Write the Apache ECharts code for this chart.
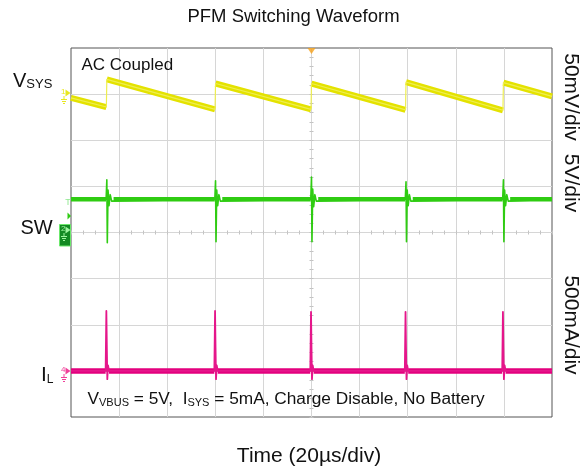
<!DOCTYPE html>
<html>
<head>
<meta charset="utf-8">
<script src="https://cdn.jsdelivr.net/npm/echarts@6/dist/echarts.min.js"></script>
<style>html,body{margin:0;padding:0;background:#fff}#c{width:587px;height:470px}</style>
</head>
<body>
<div id="c"></div>
<script>
// ---- Data (time in µs, trigger at 0, 20 µs/div) ----
// VSYS (AC coupled, mV relative to channel reference): sawtooth ramps
const vsysRamps = [
  [[-100, -4], [-85.3, -14]],
  [[-85.1, 16], [-40.1, -16.5]],
  [[-39.9, 11.5], [-0.2, -16.5]],
  [[0, 11.5], [39.1, -17]],
  [[39.3, 13], [79.6, -17.5]],
  [[79.8, 12.5], [100, -2.5]]
];
// SW node (V)
const swBase = 3.6;
const swSpikes = [
  [[-85.4, 3.6], [-85.1, 5.7], [-84.9, -1.1], [-84.6, 4.6], [-84.2, 2.9], [-83.7, 4.1], [-83.1, 3.4], [-82.3, 3.6]],
  [[-40.2, 3.6], [-39.9, 5.6], [-39.7, -1.0], [-39.4, 4.6], [-39.0, 2.9], [-38.5, 4.1], [-37.9, 3.4], [-37.1, 3.6]],
  [[-0.3, 3.6], [0, 6.0], [0.2, -1.0], [0.5, 4.7], [0.9, 2.8], [1.4, 4.1], [2.0, 3.4], [2.8, 3.6]],
  [[39.0, 3.6], [39.3, 5.5], [39.5, -1.0], [39.8, 4.6], [40.2, 2.9], [40.7, 4.1], [41.3, 3.4], [42.1, 3.6]],
  [[79.5, 3.6], [79.8, 5.7], [80.0, -1.0], [80.3, 4.6], [80.7, 2.9], [81.2, 4.1], [81.8, 3.4], [82.6, 3.6]]
];
// Inductor current IL (mA)
const ilBase = 0;
const ilSpikes = [
  [[-85.6, 0], [-85.3, 650], [-85.1, 250], [-84.9, -90], [-84.6, 60], [-84.2, 0]],
  [[-40.4, 0], [-40.1, 650], [-39.9, 250], [-39.7, -90], [-39.4, 60], [-39.0, 0]],
  [[-0.5, 0], [-0.2, 640], [0, 250], [0.2, -90], [0.5, 60], [0.9, 0]],
  [[38.8, 0], [39.1, 640], [39.3, 250], [39.5, -90], [39.8, 60], [40.2, 0]],
  [[79.3, 0], [79.6, 640], [79.8, 250], [80.0, -90], [80.3, 60], [80.7, 0]]
];
const triggerTime = [0];
const timeRange = [-100, 100];

// ---- Build series data from the arrays ----
function joinWithBreaks(segs) {
  const out = [];
  segs.forEach((s, i) => { if (i) out.push([s[0][0], null]); s.forEach(p => out.push(p)); });
  return out;
}
function baselineSegments(base, spikes) {
  const segs = [];
  let start = timeRange[0];
  spikes.forEach(sp => { segs.push([[start, base], [sp[0][0], base]]); start = sp[sp.length - 1][0]; });
  segs.push([[start, base], [timeRange[1], base]]);
  return segs;
}
function fullTrace(base, spikes) {
  const out = [[timeRange[0], base]];
  spikes.forEach(sp => sp.forEach(p => out.push(p)));
  out.push([timeRange[1], base]);
  return out;
}
const vsysThick = joinWithBreaks(vsysRamps);
const vsysThin = [].concat(...vsysRamps);
const swThick = joinWithBreaks(baselineSegments(swBase, swSpikes));
const swThin = fullTrace(swBase, swSpikes);
const ilThick = joinWithBreaks(baselineSegments(ilBase, ilSpikes));
const ilThin = fullTrace(ilBase, ilSpikes);

const FONT = '"Liberation Sans", Arial, Helvetica, sans-serif';
const YEL = '#e4e200', GRN = '#2fcc12', MAG = '#e3007e';
const gridLine = { show: true, showMinLine: false, showMaxLine: false, lineStyle: { color: '#d6d6d6', width: 1 } };
const tickAxisX = inside => ({
  type: 'value', min: timeRange[0], max: timeRange[1], interval: 5,
  axisLine: { show: true, onZero: true, onZeroAxisIndex: 1, lineStyle: { color: 'rgba(0,0,0,0)' } },
  axisTick: { show: true, inside: inside, length: 2, lineStyle: { color: '#c2c2c2' } },
  axisLabel: { show: false }, splitLine: { show: false }
});
const tickAxisY = inside => ({
  type: 'value', min: -20, max: 20, interval: 1,
  axisLine: { show: true, onZero: true, onZeroAxisIndex: 0, lineStyle: { color: 'rgba(0,0,0,0)' } },
  axisTick: { show: true, inside: inside, length: 2, lineStyle: { color: '#c2c2c2' } },
  axisLabel: { show: false }, splitLine: { show: false }
});
const line = (name, data, yi, color, w, z) => ({
  name, type: 'line', data, xAxisIndex: 0, yAxisIndex: yi, showSymbol: false, symbol: 'none',
  connectNulls: false, lineStyle: { color, width: w, join: 'round' }, z, silent: true, animation: false
});

function groundMarker(x, y, color, label) {
  return [
    { type: 'text', x: x + 1, y: y - 1, style: { text: label, fontSize: 8, fontFamily: FONT, fill: color, align: 'left', verticalAlign: 'middle' } },
    { type: 'polygon', shape: { points: [[x + 5.5, y - 3.5], [x + 10.5, y], [x + 5.5, y + 3.5]] }, style: { fill: color } },
    { type: 'line', shape: { x1: x + 4, y1: y + 3, x2: x + 4, y2: y + 6 }, style: { stroke: color, lineWidth: 1 } },
    { type: 'line', shape: { x1: x + 1, y1: y + 6.5, x2: x + 7, y2: y + 6.5 }, style: { stroke: color, lineWidth: 1 } },
    { type: 'line', shape: { x1: x + 2, y1: y + 8.5, x2: x + 6, y2: y + 8.5 }, style: { stroke: color, lineWidth: 1 } },
    { type: 'line', shape: { x1: x + 3, y1: y + 10.5, x2: x + 5, y2: y + 10.5 }, style: { stroke: color, lineWidth: 1 } }
  ];
}

const graphics = [
  { type: 'text', x: 293.5, y: 17, style: { text: 'PFM Switching Waveform', fontSize: 18.5, fontFamily: FONT, fill: '#111', align: 'center', verticalAlign: 'middle' } },
  { type: 'text', x: 309, y: 456, style: { text: 'Time (20µs/div)', fontSize: 21, fontFamily: FONT, fill: '#111', align: 'center', verticalAlign: 'middle' } },
  { type: 'text', x: 81.5, y: 65.5, z: 100, style: { text: 'AC Coupled', fontSize: 17, fontFamily: FONT, fill: '#111', align: 'left', verticalAlign: 'middle' } },
  { type: 'text', x: 13, y: 81, style: { text: '{m|V}{s|SYS}', align: 'left', verticalAlign: 'middle', rich: {
      m: { fontSize: 20, lineHeight: 20, fontFamily: FONT, fill: '#111', verticalAlign: 'bottom' },
      s: { fontSize: 13, lineHeight: 11, fontFamily: FONT, fill: '#111', verticalAlign: 'bottom' } } } },
  { type: 'text', x: 20.5, y: 228, style: { text: 'SW', fontSize: 20, fontFamily: FONT, fill: '#111', align: 'left', verticalAlign: 'middle' } },
  { type: 'text', x: 41, y: 375.5, style: { text: '{m|I}{s|L}', align: 'left', verticalAlign: 'middle', rich: {
      m: { fontSize: 21, lineHeight: 21, fontFamily: FONT, fill: '#111', verticalAlign: 'bottom' },
      s: { fontSize: 12, lineHeight: 9, fontFamily: FONT, fill: '#111', verticalAlign: 'bottom' } } } },
  { type: 'text', x: 87.5, y: 399.5, z: 100, style: {
      text: '{m|V}{s|VBUS}{m| = 5V,  I}{s|SYS}{m| = 5mA, Charge Disable, No Battery}', align: 'left', verticalAlign: 'middle', rich: {
      m: { fontSize: 17.3, lineHeight: 17, fontFamily: FONT, fill: '#111', verticalAlign: 'bottom' },
      s: { fontSize: 11, lineHeight: 11, fontFamily: FONT, fill: '#111', verticalAlign: 'bottom' } } } },
  { type: 'text', x: 571, y: 97, rotation: -Math.PI / 2, style: { text: '50mV/div', fontSize: 21, fontFamily: FONT, fill: '#111', align: 'center', verticalAlign: 'middle' } },
  { type: 'text', x: 571, y: 183, rotation: -Math.PI / 2, style: { text: '5V/div', fontSize: 21, fontFamily: FONT, fill: '#111', align: 'center', verticalAlign: 'middle' } },
  { type: 'text', x: 571, y: 325, rotation: -Math.PI / 2, style: { text: '500mA/div', fontSize: 21, fontFamily: FONT, fill: '#111', align: 'center', verticalAlign: 'middle' } },
  // channel markers
  ...groundMarker(60, 93, '#e8e820', '1'),
  ...groundMarker(60, 371, '#f0409a', '4'),
  { type: 'rect', shape: { x: 59.5, y: 224.5, width: 11, height: 21.5 }, style: { fill: '#138a22', stroke: '#6be86b', lineWidth: 1 } },
  ...groundMarker(60, 230, '#9ff59f', '2'),
  { type: 'text', x: 68, y: 203, style: { text: 'T', fontSize: 9, fontFamily: FONT, fill: '#8fe88f', align: 'center', verticalAlign: 'middle' } },
  { type: 'polygon', shape: { points: [[67.5, 212.5], [71, 216], [67.5, 219.5]] }, style: { fill: GRN } }
];

const chart = echarts.init(document.getElementById('c'), null, { renderer: 'canvas' });
chart.setOption({
  animation: false,
  backgroundColor: '#ffffff',
  grid: { left: 71, top: 48, width: 481, height: 369, show: true, borderColor: '#555', borderWidth: 1, backgroundColor: 'transparent', containLabel: false },
  xAxis: [
    { type: 'value', min: timeRange[0], max: timeRange[1], interval: 20,
      axisLine: { show: false, onZero: false }, axisTick: { show: false }, axisLabel: { show: false }, splitLine: gridLine },
    tickAxisX(true), tickAxisX(false)
  ],
  yAxis: [
    { type: 'value', min: -350, max: 50, interval: 50, show: false, axisLine: { onZero: false } },
    { type: 'value', min: -20, max: 20, interval: 5,
      axisLine: { show: false, onZero: false }, axisTick: { show: false }, axisLabel: { show: false }, splitLine: gridLine },
    { type: 'value', min: -500, max: 3500, interval: 500, show: false, axisLine: { onZero: false } },
    tickAxisY(true), tickAxisY(false)
  ],
  series: [
    line('VSYS band', vsysThick, 0, YEL, 6, 3),
    line('VSYS', vsysThin, 0, '#eeee50', 1.2, 4),
    line('SW band', swThick, 1, GRN, 4.5, 3),
    line('SW', swThin, 1, GRN, 1.6, 4),
    line('IL band', ilThick, 2, MAG, 5.5, 3),
    line('IL', ilThin, 2, '#e5168a', 1.8, 4),
    { type: 'scatter', xAxisIndex: 0, yAxisIndex: 1, data: triggerTime.map(t => [t, 20]), symbol: 'triangle', symbolRotate: 180,
      symbolSize: [8, 6], symbolOffset: [0, 3], itemStyle: { color: '#f5a01a' }, clip: false, z: 10, silent: true }
  ],
  graphic: graphics
});
</script>
</body>
</html>
